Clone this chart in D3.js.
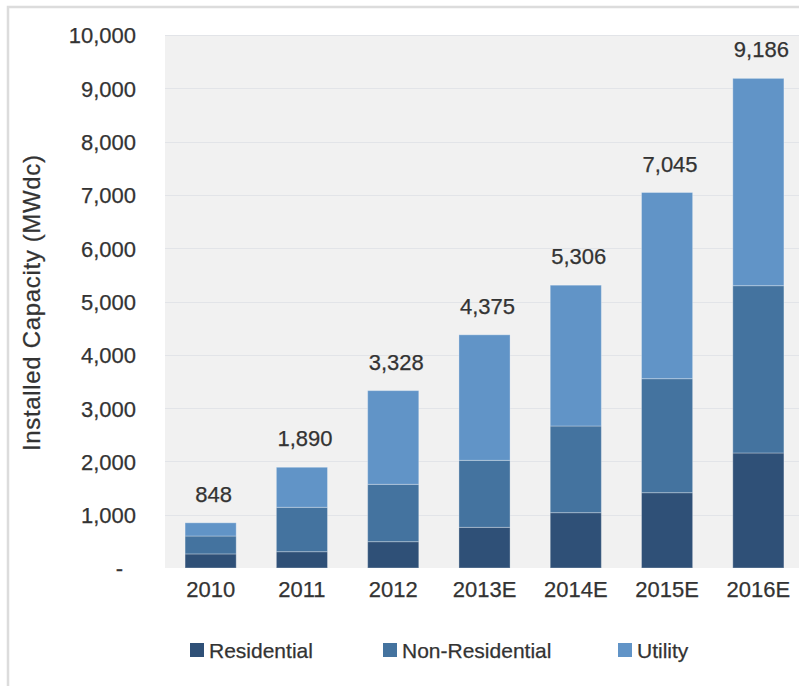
<!DOCTYPE html>
<html>
<head>
<meta charset="utf-8">
<script src="https://cdn.jsdelivr.net/npm/d3@7"></script>
<style>
  html, body { margin: 0; padding: 0; background: #ffffff; }
  svg { display: block; }
  text { font-family: "Liberation Sans", Arial, sans-serif; fill: #333333; stroke: #333333; stroke-width: 0.25px; }
</style>
</head>
<body>
<svg id="chart" width="799" height="686"></svg>
<script>
// Annual installed PV capacity by segment (MWdc)
const years = ["2010", "2011", "2012", "2013E", "2014E", "2015E", "2016E"];
const residential    = [264, 306, 494, 763, 1038, 1413, 2158];
const nonResidential = [336, 833, 1076, 1257, 1626, 2139, 3139];
const utility        = [248, 751, 1758, 2355, 2642, 3493, 3889];
const totals         = [848, 1890, 3328, 4375, 5306, 7045, 9186];
const yTicks = [0, 1000, 2000, 3000, 4000, 5000, 6000, 7000, 8000, 9000, 10000];

const seriesNames  = ["Residential", "Non-Residential", "Utility"];
const seriesColors = ["#2f5077", "#44739f", "#6194c7"];

const rows = years.map((y, i) => ({
  year: y,
  "Residential": residential[i],
  "Non-Residential": nonResidential[i],
  "Utility": utility[i],
  total: totals[i]
}));

const svg = d3.select("#chart");
const plot = { left: 165, right: 804, top: 35, bottom: 568 };

// outer frame
svg.append("rect").attr("x", 8).attr("y", 7).attr("width", 820).attr("height", 700)
  .attr("fill", "#ffffff").attr("stroke", "#dcdcdc").attr("stroke-width", 2.5);

const x = d3.scaleBand().domain(years).range([plot.left, plot.right])
  .paddingInner(0.44).paddingOuter(0.22);
const y = d3.scaleLinear().domain([0, 10000]).range([plot.bottom, plot.top]);

// plot background
svg.append("rect").attr("x", plot.left).attr("y", plot.top)
  .attr("width", plot.right - plot.left).attr("height", plot.bottom - plot.top)
  .attr("fill", "#f1f1f1");

// gridlines
svg.append("g").selectAll("line").data(yTicks.filter(d => d > 0)).join("line")
  .attr("x1", plot.left).attr("x2", plot.right)
  .attr("y1", d => Math.round(y(d)) + 0.5).attr("y2", d => Math.round(y(d)) + 0.5)
  .attr("stroke", "#e2e4e8").attr("stroke-width", 1.2);

// y axis labels
const yAxis = d3.axisLeft(y).tickValues(yTicks).tickSize(0).tickPadding(0)
  .tickFormat(d => d === 0 ? "-" : d3.format(",")(d));
const yg = svg.append("g").attr("transform", `translate(136,0)`).call(yAxis);
yg.select(".domain").remove();
yg.selectAll("text")
  .attr("font-size", 22).attr("fill", "#333333")
  .attr("font-family", "'Liberation Sans', Arial, sans-serif")
  .attr("dy", "0.36em")
  .attr("dx", d => d === 0 ? -13 : 0);

// x axis labels
const xAxis = d3.axisBottom(x).tickSize(0).tickPadding(0);
const xg = svg.append("g").attr("transform", `translate(0,${plot.bottom})`).call(xAxis);
xg.select(".domain").remove();
xg.selectAll("text")
  .attr("font-size", 22).attr("fill", "#333333")
  .attr("font-family", "'Liberation Sans', Arial, sans-serif")
  .attr("y", 29).attr("dy", 0);

// stacked bars
const stack = d3.stack().keys(seriesNames)(rows);
svg.append("g").selectAll("g").data(stack).join("g")
  .attr("fill", (d, i) => seriesColors[i])
  .selectAll("rect").data(d => d).join("rect")
  .attr("x", d => x(d.data.year))
  .attr("width", x.bandwidth())
  .attr("y", d => y(d[1]))
  .attr("height", d => y(d[0]) - y(d[1]))
  .attr("stroke", "rgba(255,255,255,0.3)").attr("stroke-width", 1);

// total labels
svg.append("g").selectAll("text").data(rows).join("text")
  .attr("x", d => x(d.year) + x.bandwidth() / 2 + 3)
  .attr("y", d => y(d.total) - 21)
  .attr("text-anchor", "middle")
  .attr("font-size", 22)
  .text(d => d3.format(",")(d.total));

// y axis title
svg.append("text")
  .attr("transform", "translate(40,303) rotate(-90)")
  .attr("text-anchor", "middle")
  .attr("font-size", 24)
  .attr("textLength", 296).attr("lengthAdjust", "spacing")
  .text("Installed Capacity (MWdc)");

// legend
const legendX = [190, 383, 618];
const lg = svg.append("g").selectAll("g").data(seriesNames).join("g")
  .attr("transform", (d, i) => `translate(${legendX[i]},643)`);
lg.append("rect").attr("width", 14).attr("height", 14)
  .attr("fill", (d, i) => seriesColors[i]);
lg.append("text").attr("x", 19).attr("y", 15)
  .attr("font-size", 21).text(d => d);
</script>
</body>
</html>
